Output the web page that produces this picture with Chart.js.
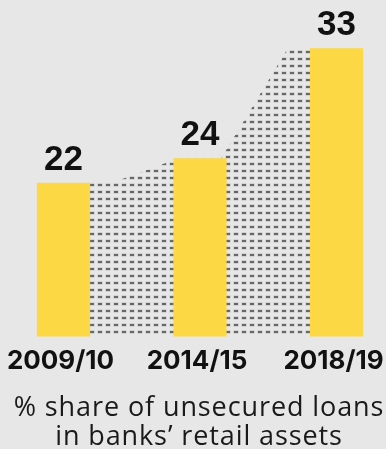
<!DOCTYPE html>
<html>
<head>
<meta charset="utf-8">
<script src="https://cdn.jsdelivr.net/npm/chart.js@4.4.1/dist/chart.umd.min.js"></script>
<style>
  html, body { margin: 0; padding: 0; background: #e7e7e7; }
  canvas { display: block; }
</style>
</head>
<body>
<canvas id="chart" width="386" height="449"></canvas>
<script>
// Share of unsecured loans in banks' retail assets, %
const periods = ['2009/10', '2014/15', '2018/19'];
const unsecuredShare = [22, 24, 33];
const titleLines = ['% share of unsecured loans', 'in banks\u2019 retail assets'];

const Y_FLOOR = 9.4;                  // value axis starts here, bars rise from it
const BAR_FRACTION = 0.39;            // bar width as a share of the gap between bar centres
const HALF = BAR_FRACTION / 2;

// Stepped outline for the dotted band: flat across each bar, sloping between bars
const bandPoints = [];
unsecuredShare.forEach((v, i) => {
  bandPoints.push({ x: i - HALF, y: v });
  bandPoints.push({ x: i + HALF, y: v });
});

// Small dash tile used as the band's fill pattern
function dashPattern() {
  const tile = document.createElement('canvas');
  tile.width = 16; tile.height = 7;
  const t = tile.getContext('2d');
  [2, 10].forEach(x => {
    t.fillStyle = 'rgba(150,150,150,0.5)';
    t.fillRect(x - 0.5, 1.5, 5, 3);
    t.fillStyle = '#676767';
    t.fillRect(x, 2, 4, 2);
  });
  return document.getElementById('chart').getContext('2d').createPattern(tile, 'repeat');
}

// Value figures above each bar
const valueLabels = {
  id: 'valueLabels',
  afterDatasetsDraw(chart) {
    const meta = chart.getDatasetMeta(0);
    const ctx = chart.ctx;
    ctx.save();
    ctx.font = 'bold 35px "Liberation Sans", Arial, sans-serif';
    ctx.fillStyle = '#111111';
    ctx.textAlign = 'center';
    ctx.textBaseline = 'alphabetic';
    meta.data.forEach((bar, i) => {
      ctx.fillText(String(unsecuredShare[i]), bar.x, bar.y - 13);
    });
    ctx.restore();
  }
};

// Two-line caption under the axis, centred on the plot
const caption = {
  id: 'caption',
  afterDraw(chart) {
    const ctx = chart.ctx;
    const cx = (chart.chartArea.left + chart.chartArea.right) / 2 - 1;
    ctx.save();
    ctx.font = '27px "Open Sans", sans-serif';
    ctx.letterSpacing = '0.9px';
    ctx.fillStyle = '#1a1a1a';
    ctx.textAlign = 'center';
    ctx.textBaseline = 'alphabetic';
    ctx.fillText(titleLines[0], cx, chart.height - 33);
    ctx.fillText(titleLines[1], cx, chart.height - 4);
    ctx.restore();
  }
};

new Chart(document.getElementById('chart'), {
  type: 'bar',
  data: {
    labels: periods,
    datasets: [
      {
        type: 'bar',
        data: unsecuredShare,
        base: Y_FLOOR,
        backgroundColor: '#fcd844',
        borderWidth: 0,
        grouped: false,
        categoryPercentage: 1,
        barPercentage: BAR_FRACTION,
        clip: false,
        order: 0
      },
      {
        type: 'line',
        data: bandPoints,
        xAxisID: 'band',
        fill: 'start',
        backgroundColor: dashPattern(),
        borderWidth: 0,
        pointRadius: 0,
        tension: 0,
        clip: false,
        order: 1
      }
    ]
  },
  options: {
    responsive: false,
    animation: false,
    devicePixelRatio: 1,
    layout: { padding: { left: 63.5, right: 49.5, top: 8, bottom: 64 } },
    plugins: {
      legend: { display: false },
      tooltip: { enabled: false },
      title: { display: false }
    },
    scales: {
      x: {
        type: 'category',
        offset: false,
        grid: { display: false, drawTicks: false },
        border: { display: false },
        afterFit(scale) { scale.paddingLeft = 0; scale.paddingRight = 0; },
        ticks: {
          color: '#111111',
          padding: 8,
          labelOffset: -3,
          maxRotation: 0,
          autoSkip: false,
          font: { family: 'Inter, sans-serif', size: 26, weight: 'bold', lineHeight: 1.25 }
        }
      },
      band: {
        type: 'linear',
        display: false,
        min: 0,
        max: 2
      },
      y: {
        display: false,
        min: Y_FLOOR,
        max: 36.3
      }
    }
  },
  plugins: [valueLabels, caption]
});
</script>
</body>
</html>
